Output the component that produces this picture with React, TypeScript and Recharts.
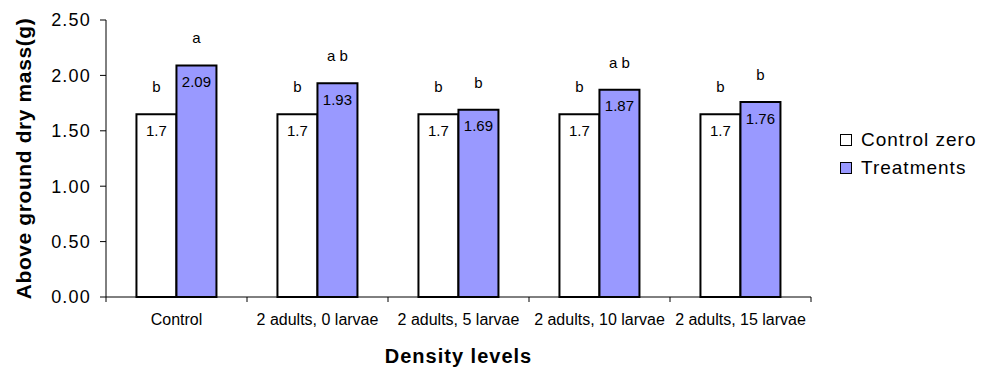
import React from 'react';
import { BarChart, Bar, XAxis, YAxis, LabelList, Label } from 'recharts';

const categories = ['Control', '2 adults, 0 larvae', '2 adults, 5 larvae', '2 adults, 10 larvae', '2 adults, 15 larvae'];
const controlZero = [1.65, 1.65, 1.65, 1.65, 1.65];
const treatments = [2.09, 1.93, 1.69, 1.87, 1.76];
const controlZeroLabels = ['1.7', '1.7', '1.7', '1.7', '1.7'];
const treatmentLabels = ['2.09', '1.93', '1.69', '1.87', '1.76'];
const controlZeroLetters = ['b', 'b', 'b', 'b', 'b'];
const treatmentLetters = ['a', 'a b', 'b', 'a b', 'b'];
const yTicks = [0, 0.5, 1, 1.5, 2, 2.5];
const seriesNames = ['Control zero', 'Treatments'];

const data = categories.map((c, i) => ({
  name: c,
  cz: controlZero[i],
  tr: treatments[i],
  czLabel: controlZeroLabels[i],
  trLabel: treatmentLabels[i],
  czLetter: controlZeroLetters[i],
  trLetter: treatmentLetters[i],
}));

const FONT = '"Liberation Sans", Arial, sans-serif';
const BLUE = '#9999FF';
const seriesFills = ['#fff', BLUE];

const XTick = (props: any) => {
  const { x, y, payload, index, width } = props;
  const band = (width || 705) / categories.length;
  const axisY = y - 6;
  return (
    <g>
      <line x1={x - band / 2} x2={x - band / 2} y1={axisY} y2={axisY + 5} stroke="#000" strokeWidth={1} />
      {index === categories.length - 1 && (
        <line x1={x + band / 2} x2={x + band / 2} y1={axisY} y2={axisY + 5} stroke="#000" strokeWidth={1} />
      )}
      <text x={x} y={axisY + 28} textAnchor="middle" fontFamily={FONT} fontSize={16} fill="#000">
        {payload.value}
      </text>
    </g>
  );
};

const LegendBox = () => (
  <div
    style={{
      position: 'absolute',
      left: 840,
      top: 126,
      fontFamily: FONT,
      fontSize: 19,
      letterSpacing: 1,
      color: '#000',
    }}
  >
    {seriesNames.map((label, i) => (
      <div key={label} style={{ display: 'flex', alignItems: 'center', height: 28 }}>
        <div style={{ width: 10, height: 10, background: seriesFills[i], border: '1px solid #000', marginRight: 9 }} />
        <span style={{ lineHeight: '28px', whiteSpace: 'nowrap' }}>{label}</span>
      </div>
    ))}
  </div>
);

export default function App() {
  return (
    <div style={{ position: 'absolute', left: 0, top: 0, width: 983, height: 370, background: '#fff' }}>
      <BarChart
        width={983}
        height={370}
        data={data}
        margin={{ top: 20, right: 172, bottom: 33, left: 0 }}
        barCategoryGap="21.6%"
        barGap={0}
      >
        <YAxis
          width={106}
          domain={[0, 2.5]}
          ticks={yTicks}
          interval={0}
          tickFormatter={(v: number) => v.toFixed(2)}
          axisLine={{ stroke: '#000', strokeWidth: 1 }}
          tickLine={{ stroke: '#000', strokeWidth: 1 }}
          tickSize={6}
          tickMargin={9}
          tick={{ fill: '#000', fontFamily: FONT, fontSize: 18, letterSpacing: 1.2 }}
        >
          <Label
            content={(p: any) => {
              const vb = p.viewBox || { x: 0, y: 20, width: 106, height: 277 };
              const cx = vb.x + 23;
              const cy = vb.y + vb.height / 2;
              return (
                <text
                  x={cx}
                  y={cy}
                  transform={`rotate(-90, ${cx}, ${cy})`}
                  textAnchor="middle"
                  dominantBaseline="central"
                  fontFamily={FONT}
                  fontWeight="bold"
                  fontSize={21}
                  letterSpacing={0.6}
                  fill="#000"
                >
                  Above ground dry mass(g)
                </text>
              );
            }}
          />
        </YAxis>
        <XAxis
          dataKey="name"
          height={40}
          interval={0}
          axisLine={{ stroke: '#000', strokeWidth: 1 }}
          tickLine={false}
          tickSize={6}
          tickMargin={0}
          tick={<XTick />}
        >
          <Label
            content={(p: any) => {
              const vb = p.viewBox || { x: 106, y: 297, width: 705, height: 40 };
              return (
                <text
                  x={vb.x + vb.width / 2}
                  y={vb.y + 66}
                  textAnchor="middle"
                  fontFamily={FONT}
                  fontWeight="bold"
                  fontSize={20}
                  letterSpacing={1}
                  fill="#000"
                >
                  Density levels
                </text>
              );
            }}
          />
        </XAxis>
        <Bar dataKey="cz" name={seriesNames[0]} fill="#fff" stroke="#000" strokeWidth={2} isAnimationActive={false}>
          <LabelList dataKey="czLabel" position="insideTop" offset={11} fill="#000" fontFamily={FONT} fontSize={15} />
          <LabelList dataKey="czLetter" position="top" offset={22} fill="#000" fontFamily={FONT} fontSize={15} />
        </Bar>
        <Bar dataKey="tr" name={seriesNames[1]} fill={BLUE} stroke="#000" strokeWidth={2} isAnimationActive={false}>
          <LabelList dataKey="trLabel" position="insideTop" offset={11} fill="#000" fontFamily={FONT} fontSize={15} />
          <LabelList dataKey="trLetter" position="top" offset={22} fill="#000" fontFamily={FONT} fontSize={15} />
        </Bar>
      </BarChart>
      <LegendBox />
    </div>
  );
}
